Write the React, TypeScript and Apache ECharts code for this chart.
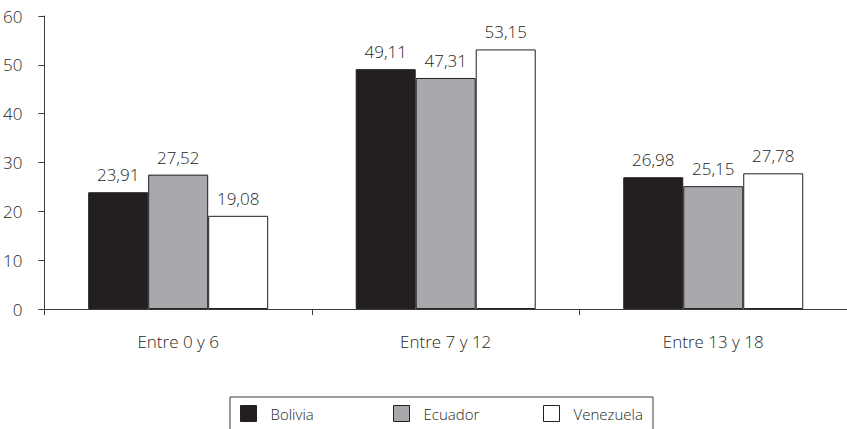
import React, { useEffect, useRef } from "react";
import * as echarts from "echarts";

const categories = ["Entre 0 y 6", "Entre 7 y 12", "Entre 13 y 18"];
const bolivia = [23.91, 49.11, 26.98];
const ecuador = [27.52, 47.31, 25.15];
const venezuela = [19.08, 53.15, 27.78];
const seriesNames = ["Bolivia", "Ecuador", "Venezuela"];
const yTicks = { min: 0, max: 60, interval: 10 };

const FONT = "'Open Sans', sans-serif";
const TXT = "#231f20";
const AX = "#3c3c3c";

export default function App() {
  const ref = useRef<HTMLDivElement>(null);
  useEffect(() => {
    if (!ref.current) return;
    const chart = echarts.init(ref.current, null, { renderer: "svg" });
    const label = {
      show: true,
      position: "top",
      distance: 9,
      color: TXT,
      fontFamily: FONT,
      fontSize: 17,
      fontWeight: 300,
      formatter: (p: any) => Number(p.value).toFixed(2).replace(".", ","),
    };
    const colors = ["#231f20", "#a7a9ac", "#ffffff"];
    const datas = [bolivia, ecuador, venezuela];
    const legendLefts = [240, 393, 543];
    chart.setOption({
      animation: false,
      textStyle: { fontFamily: FONT, color: TXT },
      grid: { left: 43, top: 16, bottom: 120, width: 808 },
      xAxis: {
        type: "category",
        data: categories,
        axisLine: { lineStyle: { color: AX, width: 1 } },
        axisTick: { show: true, length: 6, lineStyle: { color: AX } },
        axisLabel: { color: TXT, fontFamily: FONT, fontSize: 17, fontWeight: 300, margin: 24 },
      },
      yAxis: {
        type: "value",
        min: yTicks.min,
        max: yTicks.max,
        interval: yTicks.interval,
        splitLine: { show: false },
        axisLine: { show: true, lineStyle: { color: AX, width: 1 } },
        axisTick: { show: true, length: 6, lineStyle: { color: AX } },
        axisLabel: { color: TXT, fontFamily: FONT, fontSize: 17, fontWeight: 300, margin: 22 },
      },
      graphic: [
        {
          type: "rect",
          shape: { x: 230, y: 397, width: 423, height: 45 },
          style: { fill: "none", stroke: AX, lineWidth: 1 },
        },
      ],
      legend: seriesNames.map((n, i) => ({
        left: legendLefts[i],
        top: 405,
        padding: 0,
        itemWidth: 16,
        itemHeight: 16,
        icon: "rect",
        itemStyle: { borderColor: "#231f20", borderWidth: 1 },
        textStyle: { color: TXT, fontFamily: FONT, fontSize: 15, fontWeight: 300, padding: [0, 0, 0, 9] },
        data: [n],
      })),
      series: seriesNames.map((n, i) => ({
        name: n,
        type: "bar",
        data: datas[i],
        barWidth: 60,
        barGap: "0%",
        itemStyle: { color: colors[i], borderColor: "#231f20", borderWidth: 1 },
        label,
      })),
    });
    return () => chart.dispose();
  }, []);
  return <div ref={ref} style={{ width: 847, height: 429, position: "absolute", left: 0, top: 0 }} />;
}
